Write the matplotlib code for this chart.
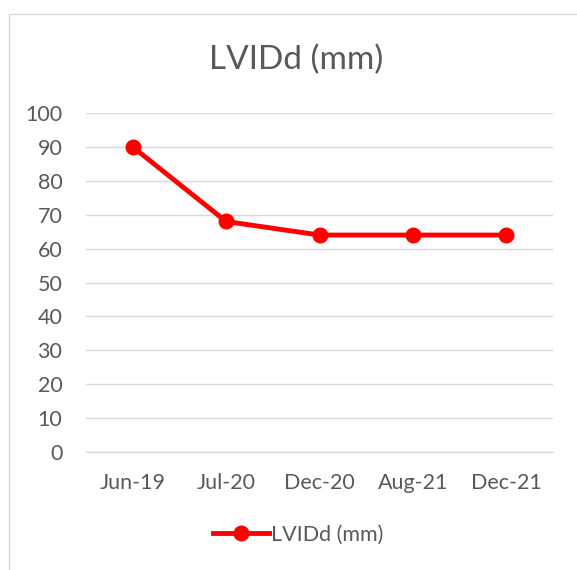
import matplotlib.pyplot as plt
from matplotlib.lines import Line2D
from matplotlib.patches import Rectangle

plt.rcParams['font.family'] = ['Lato', 'DejaVu Sans']

dates = ['Jun-19', 'Jul-20', 'Dec-20', 'Aug-21', 'Dec-21']
lvidd = [90, 68, 64, 64, 64]
yticks = [0, 10, 20, 30, 40, 50, 60, 70, 80, 90, 100]

text_color = '#595959'
grid_color = '#D9D9D9'
red = '#FF0000'

fig = plt.figure(figsize=(5.77, 5.70), dpi=100)
# chart frame, like the Excel chart border
fig.patches.append(Rectangle((9 / 577, -0.05), 1.0, 1 - 14 / 570 + 0.05,
                             transform=fig.transFigure, fill=False,
                             edgecolor=grid_color, linewidth=1.0))

ax = fig.add_axes([86 / 577, 1 - 452 / 570, 467 / 577, 339 / 570])
x = list(range(len(dates)))
ax.plot(x, lvidd, color=red, linewidth=3.5, marker='o', markersize=10.5,
        label='LVIDd (mm)', solid_capstyle='round', zorder=3)

ax.set_xlim(-0.5, len(dates) - 0.5)
ax.set_ylim(0, 100)
ax.set_yticks(yticks)
ax.set_xticks(x)
ax.set_xticklabels(dates)
ax.yaxis.grid(True, color=grid_color, linewidth=1.0)
ax.set_axisbelow(True)
for s in ['top', 'right', 'left']:
    ax.spines[s].set_visible(False)
ax.spines['bottom'].set_color(grid_color)
ax.tick_params(axis='both', length=0, labelsize=15.5, labelcolor=text_color)
ax.tick_params(axis='y', pad=17)
ax.tick_params(axis='x', pad=15)

fig.text(296 / 577, 1 - 60 / 570, 'LVIDd (mm)', ha='center', va='center',
         fontsize=24, color=text_color)

handle = Line2D([], [], color=red, linewidth=3.5, marker='o', markersize=10.5)
fig.legend([handle], ['LVIDd (mm)'], loc='center', bbox_to_anchor=(298 / 577, 1 - 535 / 570),
           frameon=False, fontsize=15.5, labelcolor=text_color, handlelength=2.6,
           handletextpad=0.1)

fig.savefig('out.png', dpi=100)
